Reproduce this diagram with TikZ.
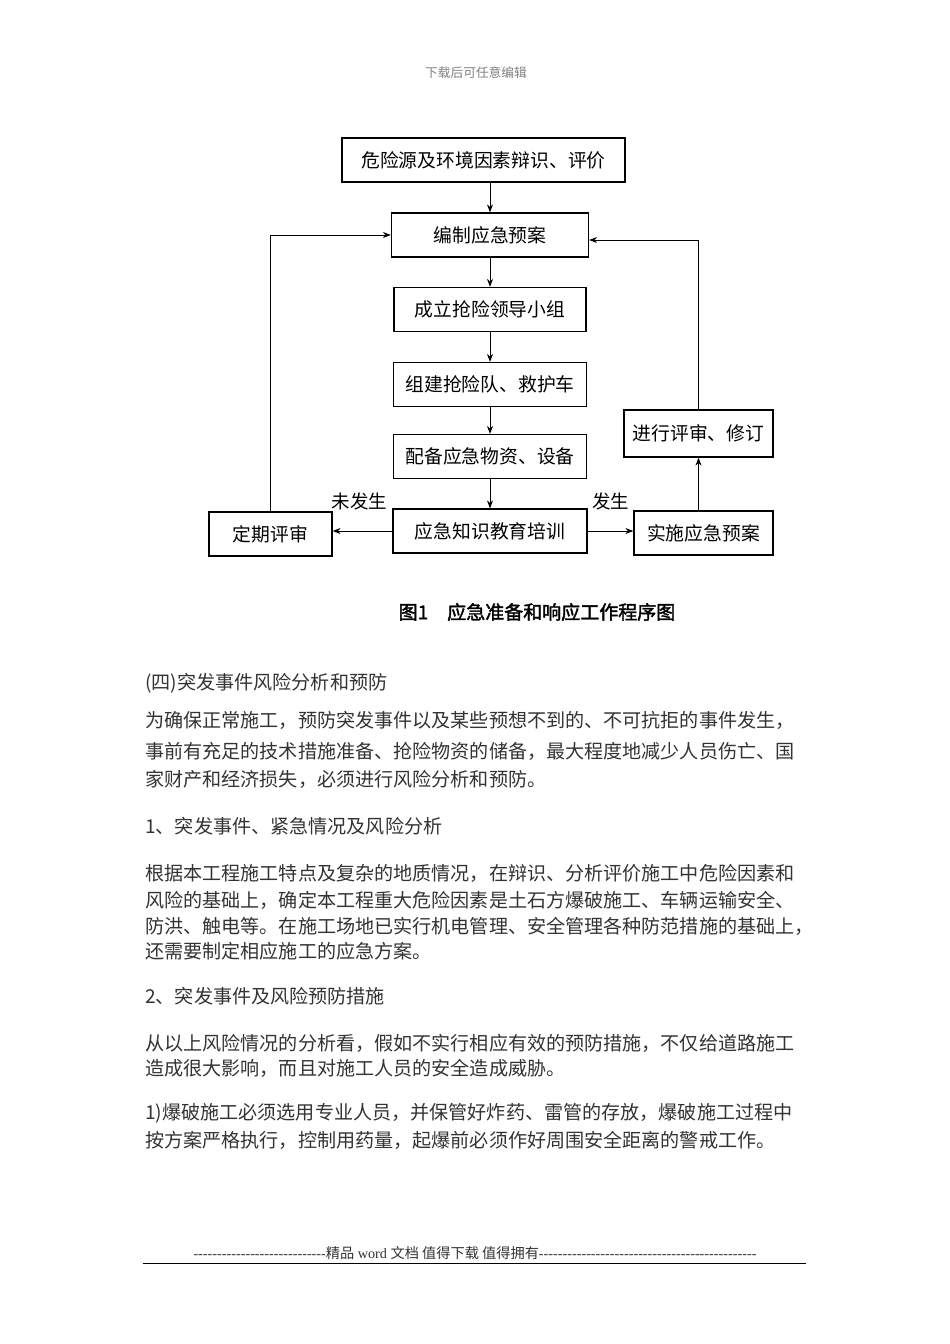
\documentclass[tikz,border=0pt]{standalone}
\usepackage{fontspec}
\setmainfont{Noto Sans CJK SC}[AutoFakeBold=2]
\newfontfamily\lser{Liberation Serif}
\usetikzlibrary{arrows.meta}
\definecolor{bodytext}{HTML}{333333}
\tikzset{
  box/.style={draw,line width=1.2pt,minimum height=44pt,inner sep=0pt,font=\fontsize{18.8}{18.8}\selectfont},
  arr/.style={line width=1pt,-{Stealth[length=8pt,width=6pt]}},
  para/.style={anchor=west,inner sep=0pt,text=bodytext,font=\fontsize{19.1}{19.1}\selectfont}
}
\begin{document}
\begin{tikzpicture}[x=1pt,y=-1pt]
	\useasboundingbox[fill=white] (0,0) rectangle (950,1344);
	\node[text=gray,font=\fontsize{12.7}{12.7}\selectfont] (head) at (476,73) {下载后可任意编辑};
	% flow chart
	\node[box,minimum width=283pt] (wx) at (483.5,160) {危险源及环境因素辩识、评价};
	\node[box,minimum width=197pt] (bz) at (490,235) {编制应急预案};
	\node[box,minimum width=192pt] (cl) at (490,309.5) {成立抢险领导小组};
	\node[box,minimum width=193pt] (zj) at (490,384.5) {组建抢险队、救护车};
	\node[box,minimum width=193pt] (pb) at (490,456.5) {配备应急物资、设备};
	\node[box,minimum width=194pt] (px) at (490,531) {应急知识教育培训};
	\node[box,minimum width=123pt] (dq) at (270.5,534) {定期评审};
	\node[box,minimum width=139pt] (ss) at (703.5,533) {实施应急预案};
	\node[box,minimum width=149pt,minimum height=47pt] (ps) at (698.5,433.5) {进行评审、修订};
	\draw[arr] (wx.south -| bz.north) -- (bz.north);
	\draw[arr] (bz) -- (cl);
	\draw[arr] (cl) -- (zj);
	\draw[arr] (zj) -- (pb);
	\draw[arr] (pb) -- (px);
	\draw[arr] (px) -- node[above=17pt,pos=0.55,font=\fontsize{18.5}{18.5}\selectfont] (wfs) {未发生} (px -| dq.east);
	\draw[arr] (px) -- node[above=17pt,pos=0.5,font=\fontsize{18.5}{18.5}\selectfont] (fs) {发生} (px -| ss.west);
	\draw[arr] (ss.north -| ps.south) -- (ps.south);
	\draw[arr] (dq.north) |- (bz.west);
	\draw[arr] (ps.north) |- ([yshift=-5pt]bz.east);
	\node[font=\bfseries\fontsize{19}{19}\selectfont] (cap) at (537,612) {图1\quad 应急准备和响应工作程序图};
	% body text
	\node[para] (t1) at (145,683) {(四)突发事件风险分析和预防};
	\node[para] (t2) at (145,720) {为确保正常施工，预防突发事件以及某些预想不到的、不可抗拒的事件发生，};
	\node[para] (t3) at (145,751) {事前有充足的技术措施准备、抢险物资的储备，最大程度地减少人员伤亡、国};
	\node[para] (t4) at (145,779) {家财产和经济损失，必须进行风险分析和预防。};
	\node[para] (t5) at (145,826) {1、突发事件、紧急情况及风险分析};
	\node[para] (t6) at (145,873) {根据本工程施工特点及复杂的地质情况，在辩识、分析评价施工中危险因素和};
	\node[para] (t7) at (145,900) {风险的基础上，确定本工程重大危险因素是土石方爆破施工、车辆运输安全、};
	\node[para] (t8) at (145,926) {防洪、触电等。在施工场地已实行机电管理、安全管理各种防范措施的基础上，};
	\node[para] (t9) at (145,951) {还需要制定相应施工的应急方案。};
	\node[para] (t10) at (145,996) {2、突发事件及风险预防措施};
	\node[para] (t11) at (145,1043) {从以上风险情况的分析看，假如不实行相应有效的预防措施，不仅给道路施工};
	\node[para] (t12) at (145,1068) {造成很大影响，而且对施工人员的安全造成威胁。};
	\node[para] (t13) at (145,1113) {1)爆破施工必须选用专业人员，并保管好炸药、雷管的存放，爆破施工过程中};
	\node[para] (t14) at (145,1140) {按方案严格执行，控制用药量，起爆前必须作好周围安全距离的警戒工作。};
	% footer
	\node[font=\fontsize{14.2}{14.2}\selectfont,text=bodytext] (foot) at (475,1253) {{\lser ----------------------------}精品{\lser\ word }文档 值得下载 值得拥有{\lser ----------------------------------------------}};
	\coordinate (fl) at (143,1263);
	\coordinate (fr) at (806,1263);
	\draw[line width=1pt] (fl) -- (fr);
\end{tikzpicture}
\end{document}
